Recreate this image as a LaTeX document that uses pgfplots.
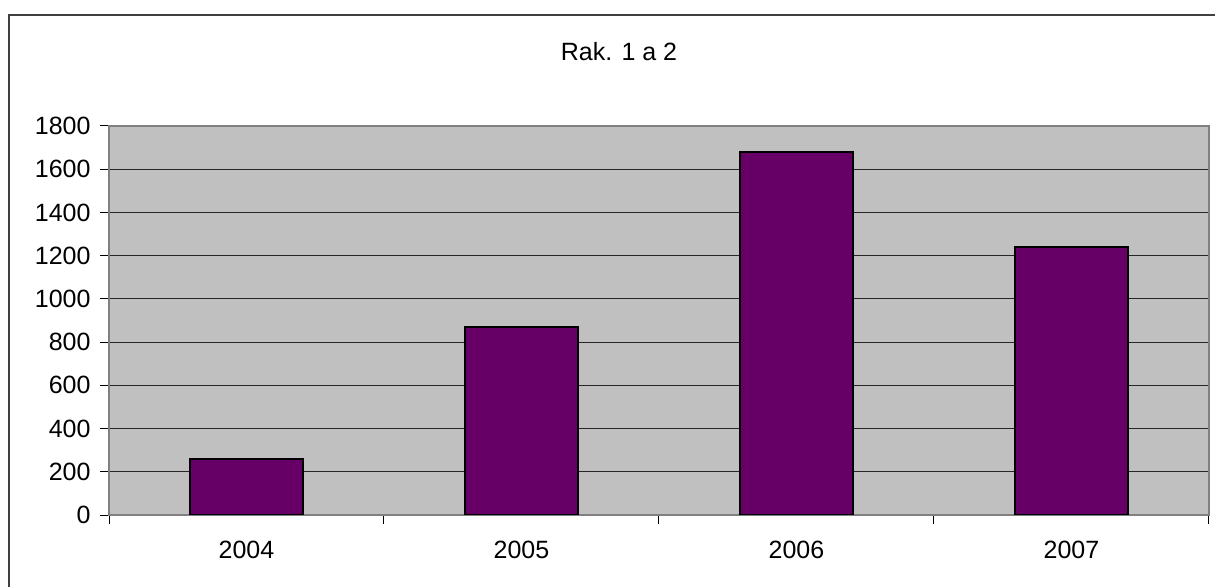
\documentclass[border=0pt]{standalone}
\usepackage{pgfplots}
\pgfplotsset{compat=1.18}
\usepackage{fontspec}
\setmainfont{Liberation Sans}
\definecolor{barpurple}{RGB}{102,0,102}
\definecolor{silverbg}{RGB}{192,192,192}
\definecolor{framegray}{RGB}{128,128,128}
\begin{document}
\begin{tikzpicture}
\useasboundingbox (0,0) rectangle (1215bp,587bp);
\fill[white] (0,0) rectangle (1215bp,587bp);
\draw[line width=1.3bp, draw=black!75] (9bp,-20bp) -- (9bp,572bp) -- (1240bp,572bp);
\node[font=\fontsize{25bp}{30bp}\selectfont] at (619bp,535bp) {Rak. 1 a 2};
\begin{axis}[
  at={(109bp,72bp)}, anchor=south west,
  scale only axis, width=1100bp, height=389bp,
  xmin=-0.5, xmax=3.5, ymin=0, ymax=1800,
  axis background/.style={fill=silverbg},
  axis line style={draw=framegray, line width=1.3bp},
  ytick={0,200,...,1800},
  xtick={0,1,2,3},
  xticklabels={2004,2005,2006,2007},
  minor xtick={-0.5,0.5,1.5,2.5,3.5},
  major x tick style={draw=none},
  minor x tick style={draw=black, line width=1bp},
  ytick style={draw=black, line width=1bp},
  tick align=outside,
  major tick length=9bp, minor tick length=9bp,
  xtick pos=bottom, ytick pos=left,
  ymajorgrids,
  grid style={draw=black!85, line width=0.9bp},
  /pgf/number format/assume math mode=true,
  /pgf/number format/1000 sep={},
  tick label style={font=\fontsize{25bp}{30bp}\selectfont},
  y tick label style={xshift=-6bp},
  x tick label style={yshift=-14bp},
  axis on top=false,
]
\addplot[ybar, bar width=113bp, fill=barpurple, draw=black, line width=1.5bp]
  coordinates {(0,260) (1,870) (2,1680) (3,1240)};
\end{axis}
\end{tikzpicture}
\end{document}
